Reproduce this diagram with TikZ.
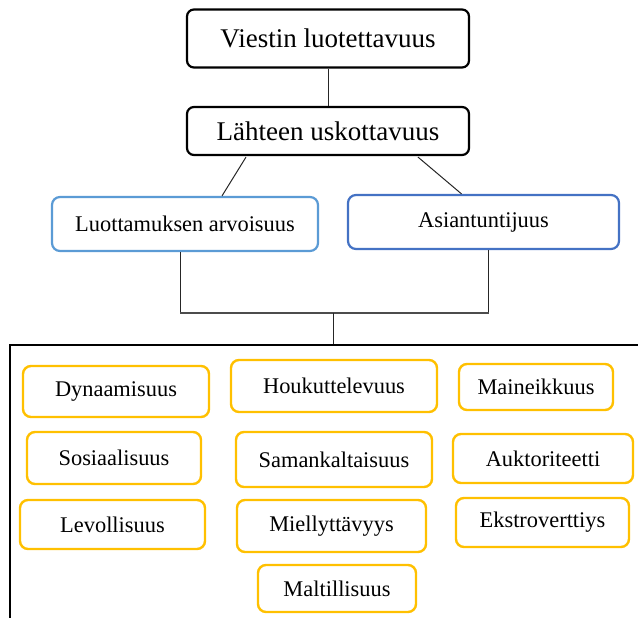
\documentclass[tikz,border=0pt]{standalone}
\usepackage{fontspec}
\setmainfont{Liberation Serif}
\usetikzlibrary{calc}
\definecolor{lightblue}{HTML}{5B9BD5}
\definecolor{midblue}{HTML}{4472C4}
\definecolor{amber}{HTML}{FFC000}
\tikzset{
  topbox/.style={draw=black, line width=2.2pt, rounded corners=7pt, fill=white,
    font=\fontsize{27}{31}\selectfont, inner sep=0pt},
  bluebox/.style={line width=2.2pt, rounded corners=8pt, fill=white,
    font=\fontsize{22.4}{26}\selectfont, inner sep=0pt},
  itembox/.style={draw=amber, line width=2.4pt, rounded corners=8pt, fill=white,
    font=\fontsize{22.4}{26}\selectfont, inner sep=0pt},
  link/.style={draw=black!85, line width=1pt},
  frame/.style={draw=black, line width=2.2pt}
}
\begin{document}
\begin{tikzpicture}[x=1pt, y=-1pt]
\useasboundingbox (0,0) rectangle (638,618);
\clip (0,0) rectangle (638,618);

% upper hierarchy
\node[topbox, minimum width=282pt, minimum height=58pt] (v) at (328,38.5) {Viestin luotettavuus};
\node[topbox, minimum width=282pt, minimum height=48pt] (l) at (328,131) {Lähteen uskottavuus};
\node[bluebox, draw=lightblue, minimum width=266pt, minimum height=54pt] (lu) at (185,224) {Luottamuksen arvoisuus};
\node[bluebox, draw=midblue, minimum width=271pt, minimum height=54pt] (as) at (483.5,222) {Asiantuntijuus};

\draw[link] (v.south) -- (l.north);
\draw[link] ($(l.south)+(-82,1)$) -- ($(lu.north)+(37,0)$);
\draw[link] ($(l.south)+(90,1)$) -- ($(as.north)+(-22,0)$);

% bracket joining the two components
\coordinate (bl) at ($(lu.south)+(-5,61)$);
\coordinate (br) at ($(as.south)+(5,63)$);
\coordinate (bj) at (333,313);
\coordinate (ft) at (333,345);
\draw[link] ($(lu.south)+(-5,0)$) -- (bl);
\draw[link] ($(as.south)+(5,0)$) -- (br);
\draw[draw=black!70, line width=1.4pt] (bl) -- (br);
\draw[link] (bj) -- (ft);

% open frame around the attributes
\coordinate (fl) at (10,345);
\draw[frame] (645,345) -- (fl) -- (10,625);

% attribute boxes
\node[itembox, minimum width=186pt, minimum height=51pt] (dy) at (116,391.5) {Dynaamisuus};
\node[itembox, minimum width=206pt, minimum height=52pt] (ho) at (334,386) {Houkuttelevuus};
\node[itembox, minimum width=154pt, minimum height=46pt] (ma) at (536,387) {Maineikkuus};
\node[itembox, minimum width=174pt, minimum height=52pt] (so) at (114,458) {Sosiaalisuus};
\node[itembox, minimum width=196pt, minimum height=55pt] (sa) at (334,459.5) {Samankaltaisuus};
\node[itembox, minimum width=180pt, minimum height=49pt] (au) at (543,458.5) {Auktoriteetti};
\node[itembox, minimum width=185pt, minimum height=49pt] (le) at (112.5,524.5) {Levollisuus};
\node[itembox, minimum width=189pt, minimum height=52pt] (mi) at (331.5,526) {Miellyttävyys};
\node[itembox, minimum width=173pt, minimum height=49pt] (ek) at (542.5,522.5) {Ekstroverttiys};
\node[itembox, minimum width=158pt, minimum height=47pt] (mt) at (337,588.5) {Maltillisuus};
\end{tikzpicture}
\end{document}
